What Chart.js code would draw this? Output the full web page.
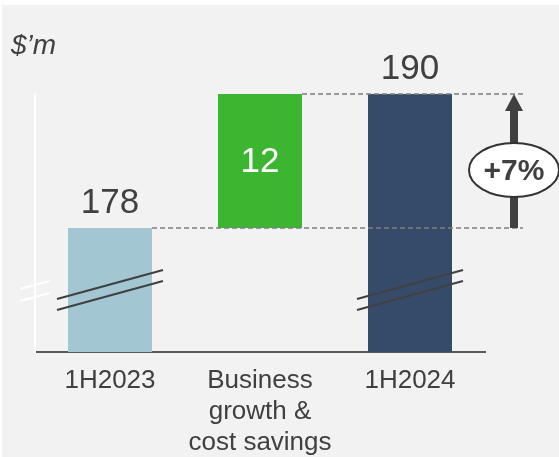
<!DOCTYPE html>
<html lang="en">
<head>
    <meta charset="UTF-8">
    <title>1H2023 to 1H2024 bridge</title>
    <script src="https://cdn.jsdelivr.net/npm/chart.js"></script>
    <style>
        html, body { margin: 0; padding: 0; background: #ffffff; }
        #wrap { width: 559px; height: 457px; position: relative; }
    </style>
</head>
<body>
    <div id="wrap"><canvas id="bridgeChart"></canvas></div>

    <script>
        // Bridge data
        const categories = [['1H2023'], ['Business', 'growth &', 'cost savings'], ['1H2024']];
        const values = [178, 12, 190];
        const kinds = ['total', 'delta', 'total'];
        const valueLabels = ['178', '12', '190'];
        const changeLabel = '+7%';
        const unitLabel = '$\u2019m';
        const axisBreakMin = 166.9; // axis is broken, bars start here

        const barColors = ['#a3c6d3', '#3cb531', '#364b6a'];
        const textColor = '#404040';
        const fontFamily = '"Liberation Sans", Arial, sans-serif';

        // build floating bars for the delta step
        let running = 0;
        const barData = values.map(function (v, i) {
            if (kinds[i] === 'total') {
                running = v;
                return v;
            }
            const start = running;
            running = running + v;
            return [start, running];
        });

        const background = {
            id: 'background',
            beforeDraw(chart) {
                const ctx = chart.ctx;
                ctx.save();
                ctx.fillStyle = '#ffffff';
                ctx.fillRect(0, 0, chart.width, chart.height);
                ctx.fillStyle = '#f2f2f2';
                ctx.fillRect(2, 5, chart.width - 2, chart.height - 5);
                ctx.restore();
            }
        };

        const bridgeExtras = {
            id: 'bridgeExtras',
            afterDatasetsDraw(chart) {
                const ctx = chart.ctx;
                const y = chart.scales.y;
                const area = chart.chartArea;
                const bars = chart.getDatasetMeta(0).data;
                const yStart = y.getPixelForValue(values[0]);
                const yEnd = y.getPixelForValue(values[2]);
                const arrowX = area.right + 29;

                ctx.save();

                // dashed connectors
                ctx.strokeStyle = '#7f7f7f';
                ctx.lineWidth = 1.5;
                ctx.setLineDash([5, 3]);
                ctx.beginPath();
                ctx.moveTo(bars[0].x + bars[0].width / 2, yStart);
                ctx.lineTo(arrowX + 9, yStart);
                ctx.moveTo(bars[1].x + bars[1].width / 2, yEnd);
                ctx.lineTo(arrowX + 9, yEnd);
                ctx.stroke();
                ctx.setLineDash([]);

                // axis break marks on the bars
                ctx.strokeStyle = '#404040';
                ctx.lineWidth = 2;
                [bars[0], bars[2]].forEach(function (b) {
                    const x1 = b.x - b.width / 2 - 11;
                    const x2 = b.x + b.width / 2 + 11;
                    ctx.beginPath();
                    ctx.moveTo(x1, area.bottom - 53);
                    ctx.lineTo(x2, area.bottom - 82);
                    ctx.moveTo(x1, area.bottom - 42);
                    ctx.lineTo(x2, area.bottom - 71);
                    ctx.stroke();
                });

                // break mark on the y axis
                ctx.strokeStyle = '#ffffff';
                ctx.beginPath();
                ctx.moveTo(area.left - 15, area.bottom - 63);
                ctx.lineTo(area.left + 15, area.bottom - 71);
                ctx.moveTo(area.left - 15, area.bottom - 51);
                ctx.lineTo(area.left + 15, area.bottom - 59);
                ctx.stroke();

                // growth arrow
                ctx.fillStyle = '#404040';
                ctx.strokeStyle = '#404040';
                ctx.lineWidth = 8;
                ctx.beginPath();
                ctx.moveTo(arrowX, yStart);
                ctx.lineTo(arrowX, yEnd + 14);
                ctx.stroke();
                ctx.beginPath();
                ctx.moveTo(arrowX, yEnd);
                ctx.lineTo(arrowX - 9, yEnd + 17);
                ctx.lineTo(arrowX + 9, yEnd + 17);
                ctx.closePath();
                ctx.fill();

                // +7% bubble
                const midY = (yStart + yEnd) / 2 + 9;
                ctx.beginPath();
                ctx.ellipse(arrowX, midY, 45, 27, 0, 0, Math.PI * 2);
                ctx.fillStyle = '#ffffff';
                ctx.fill();
                ctx.lineWidth = 2;
                ctx.strokeStyle = '#333333';
                ctx.stroke();
                ctx.fillStyle = textColor;
                ctx.font = 'bold 30px ' + fontFamily;
                ctx.textAlign = 'center';
                ctx.textBaseline = 'middle';
                ctx.fillText(changeLabel, arrowX, midY + 2);

                // value labels
                ctx.font = '35px ' + fontFamily;
                ctx.textBaseline = 'alphabetic';
                bars.forEach(function (b, i) {
                    if (kinds[i] === 'total') {
                        ctx.fillStyle = textColor;
                        ctx.fillText(valueLabels[i], b.x, b.y - 15);
                    } else {
                        ctx.fillStyle = '#ffffff';
                        ctx.textBaseline = 'middle';
                        ctx.fillText(valueLabels[i], b.x, (b.y + b.base) / 2 + 1);
                        ctx.textBaseline = 'alphabetic';
                    }
                });

                // unit label
                ctx.fillStyle = textColor;
                ctx.font = 'italic 28px ' + fontFamily;
                ctx.textAlign = 'left';
                ctx.fillText(unitLabel, 11, 54);

                ctx.restore();
            }
        };

        new Chart(document.getElementById('bridgeChart'), {
            type: 'bar',
            data: {
                labels: categories,
                datasets: [{
                    data: barData,
                    backgroundColor: barColors,
                    borderWidth: 0,
                    barPercentage: 0.56,
                    categoryPercentage: 1
                }]
            },
            options: {
                responsive: true,
                maintainAspectRatio: false,
                animation: false,
                layout: {
                    padding: { left: 35, right: 74, top: 94, bottom: 0 }
                },
                plugins: {
                    legend: { display: false },
                    tooltip: { enabled: false }
                },
                scales: {
                    x: {
                        grid: { display: false, drawTicks: false },
                        border: { color: '#595959', width: 2 },
                        afterFit: function (scale) { scale.height = 105; },
                        ticks: {
                            color: textColor,
                            padding: 13,
                            maxRotation: 0,
                            autoSkip: false,
                            font: { family: fontFamily, size: 26, lineHeight: 1.2 }
                        }
                    },
                    y: {
                        min: axisBreakMin,
                        max: values[2],
                        grid: { display: false, drawTicks: false },
                        border: { color: '#ffffff', width: 2 },
                        ticks: { display: false }
                    }
                }
            },
            plugins: [background, bridgeExtras]
        });
    </script>
</body>
</html>
